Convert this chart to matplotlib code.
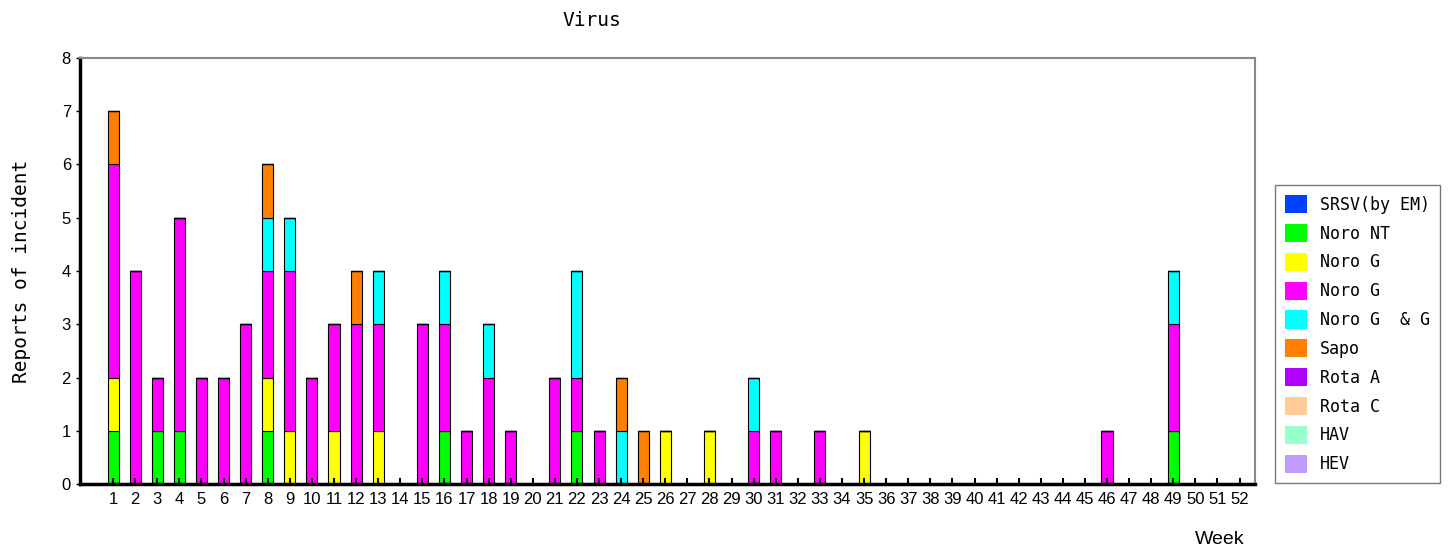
import numpy as np
import matplotlib
matplotlib.use("Agg")
import matplotlib.pyplot as plt

weeks = list(range(1, 53))

# reports per week for each virus (weeks 1..52)
srsv = [0] * 52
noro_nt = [1, 0, 1, 1, 0, 0, 0, 1, 0, 0, 0, 0, 0, 0, 0, 1, 0, 0, 0, 0,
           0, 1, 0, 0, 0, 0, 0, 0, 0, 0, 0, 0, 0, 0, 0, 0, 0, 0, 0, 0,
           0, 0, 0, 0, 0, 0, 0, 0, 1, 0, 0, 0]
noro_g1 = [1, 0, 0, 0, 0, 0, 0, 1, 1, 0, 1, 0, 1, 0, 0, 0, 0, 0, 0, 0,
           0, 0, 0, 0, 0, 1, 0, 1, 0, 0, 0, 0, 0, 0, 1, 0, 0, 0, 0, 0,
           0, 0, 0, 0, 0, 0, 0, 0, 0, 0, 0, 0]
noro_g2 = [4, 4, 1, 4, 2, 2, 3, 2, 3, 2, 2, 3, 2, 0, 3, 2, 1, 2, 1, 0,
           2, 1, 1, 0, 0, 0, 0, 0, 0, 1, 1, 0, 1, 0, 0, 0, 0, 0, 0, 0,
           0, 0, 0, 0, 0, 1, 0, 0, 2, 0, 0, 0]
noro_gg = [0, 0, 0, 0, 0, 0, 0, 1, 1, 0, 0, 0, 1, 0, 0, 1, 0, 1, 0, 0,
           0, 2, 0, 1, 0, 0, 0, 0, 0, 1, 0, 0, 0, 0, 0, 0, 0, 0, 0, 0,
           0, 0, 0, 0, 0, 0, 0, 0, 1, 0, 0, 0]
sapo = [1, 0, 0, 0, 0, 0, 0, 1, 0, 0, 0, 1, 0, 0, 0, 0, 0, 0, 0, 0,
        0, 0, 0, 1, 1, 0, 0, 0, 0, 0, 0, 0, 0, 0, 0, 0, 0, 0, 0, 0,
        0, 0, 0, 0, 0, 0, 0, 0, 0, 0, 0, 0]
rota_a = [0] * 52
rota_c = [0] * 52
hav = [0] * 52
hev = [0] * 52

series = [
    ("SRSV(by EM)", srsv, "#0040ff"),
    ("Noro NT", noro_nt, "#00ff00"),
    ("Noro G", noro_g1, "#ffff00"),
    ("Noro G", noro_g2, "#ff00ff"),
    ("Noro G  & G", noro_gg, "#00ffff"),
    ("Sapo", sapo, "#ff8000"),
    ("Rota A", rota_a, "#b000ff"),
    ("Rota C", rota_c, "#ffcc99"),
    ("HAV", hav, "#99ffcc"),
    ("HEV", hev, "#c09cff"),
]

mono = "DejaVu Sans Mono"
plt.rcParams['font.family'] = ['Liberation Sans', 'DejaVu Sans']

fig = plt.figure(figsize=(14.54, 5.54), dpi=100)
ax = fig.add_axes([80 / 1454, 1 - 484 / 554, (1255 - 80) / 1454, (484 - 58) / 554])

x = np.array(weeks)
bottom = np.zeros(52)
handles = []
for name, vals, col in series:
    v = np.array(vals, dtype=float)
    h = ax.bar(x, v, width=0.5, bottom=bottom, color=col,
               edgecolor='black', linewidth=0.8, label=name)
    handles.append(h)
    bottom += v

ax.set_xlim(-0.5, 52.7)
ax.set_ylim(0, 8)
ax.set_xticks(weeks)
ax.set_xticklabels([str(w) for w in weeks], fontsize=12)
ax.set_yticks(range(9))
ax.tick_params(axis='x', direction='in', length=4, width=1.5, pad=6)
ax.tick_params(axis='y', direction='out', length=3, width=1, labelsize=12)
for s in ['left', 'bottom']:
    ax.spines[s].set_linewidth(2.5)
    ax.spines[s].set_color('black')
for s in ['top', 'right']:
    ax.spines[s].set_linewidth(1.5)
    ax.spines[s].set_color('#888888')

ax.set_ylabel("Reports of incident", fontsize=14, family=mono, labelpad=22)
fig.text(592 / 1454, 1 - 20 / 554, "Virus", fontsize=14, family=mono,
         ha='center', va='center')
fig.text(1220 / 1454, 1 - 540 / 554, "Week", fontsize=14,
         ha='center', va='center')

leg = fig.legend(handles=handles, loc='upper left',
                 bbox_to_anchor=(1275 / 1454, 1 - 185 / 554),
                 borderaxespad=0,
                 prop={'family': mono, 'size': 12}, frameon=True,
                 fancybox=False, edgecolor='#555555', handlelength=1.3,
                 handleheight=1.3, labelspacing=0.61, borderpad=0.6,
                 handletextpad=0.8)
leg.get_frame().set_linewidth(1.0)
for p in leg.get_patches():
    p.set_edgecolor('none')

fig.savefig("out.png", dpi=100)
